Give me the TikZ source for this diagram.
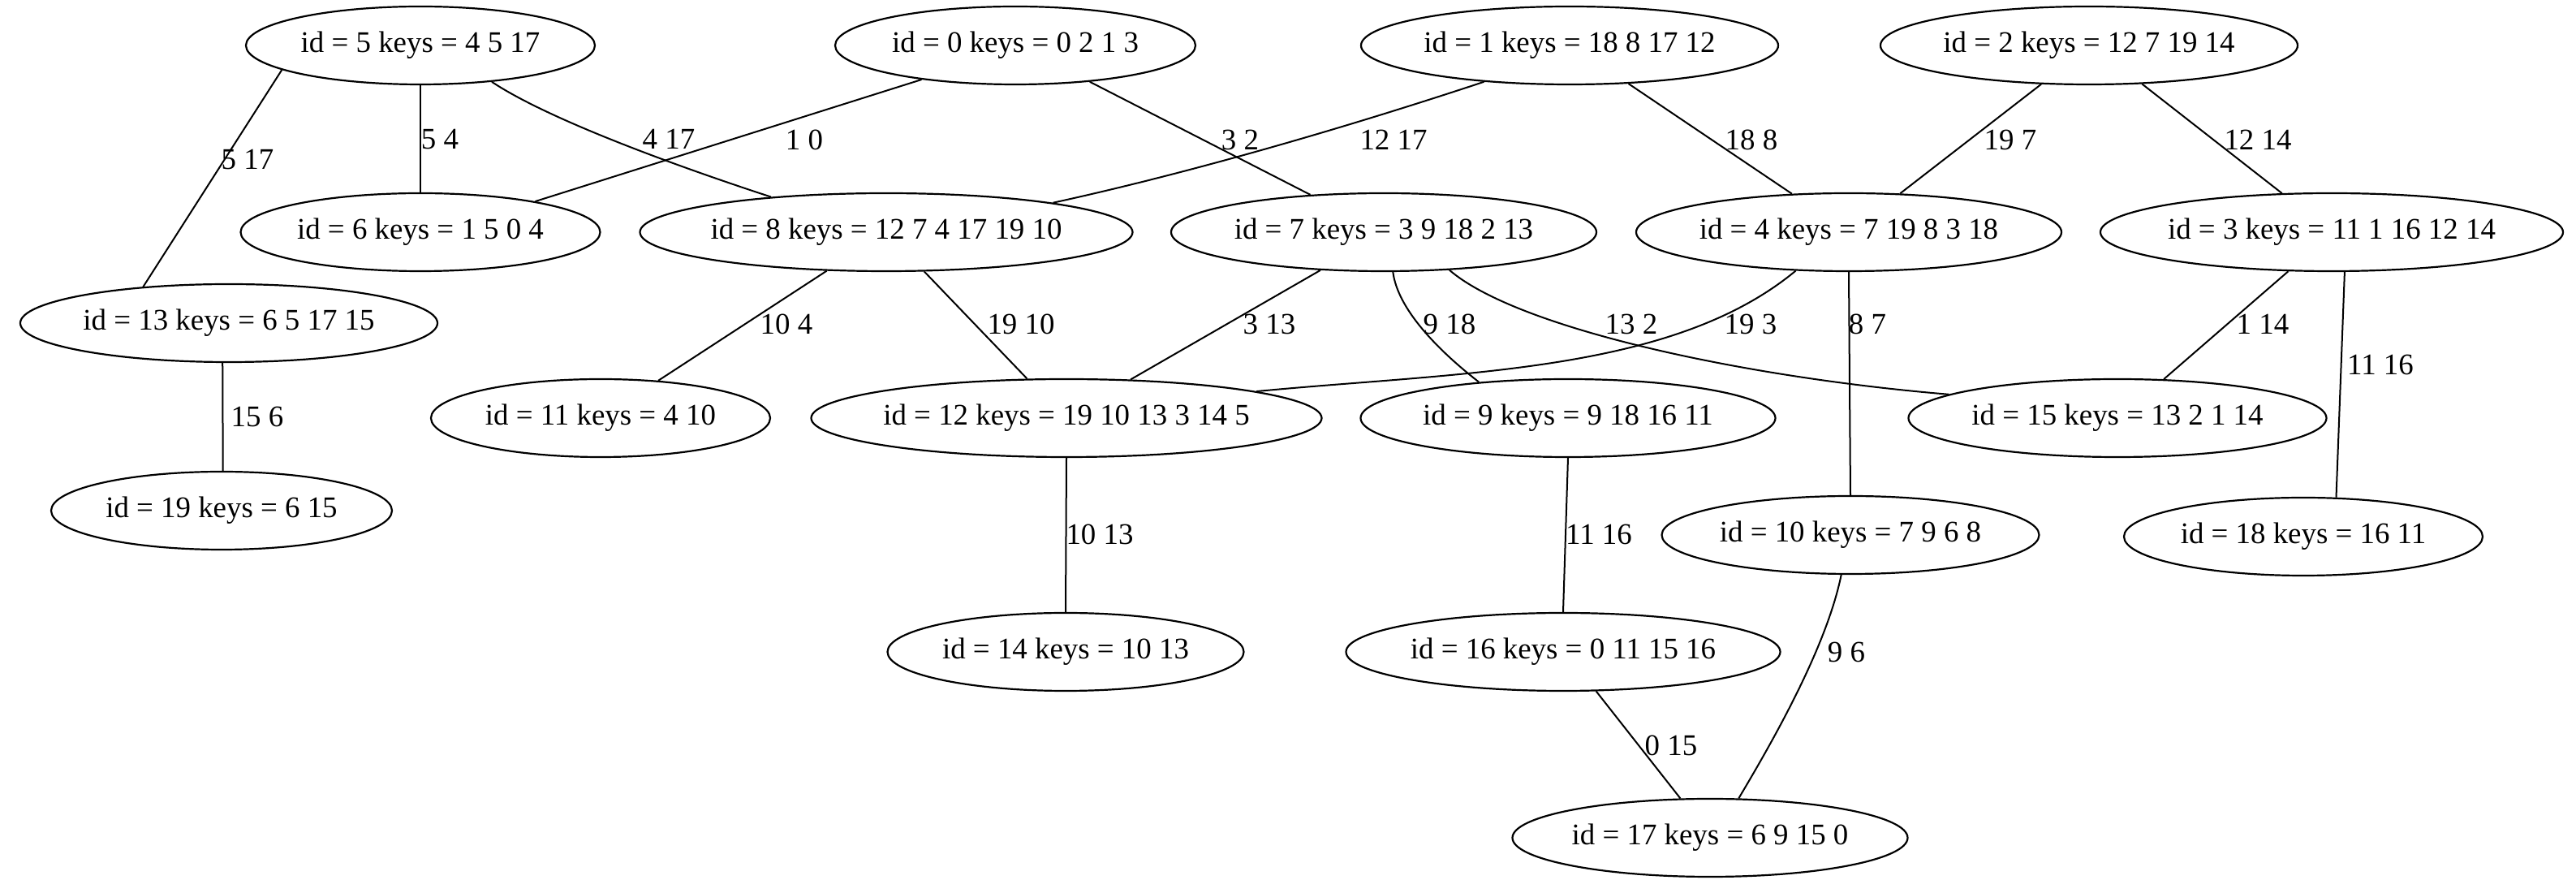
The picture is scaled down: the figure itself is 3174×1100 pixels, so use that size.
\documentclass[tikz,border=0pt]{standalone}
\usepackage{fontspec}
\setmainfont{Liberation Serif}
\usetikzlibrary{shapes.geometric}
\tikzset{
  nd/.style={ellipse, draw, line width=0.55pt, minimum height=24pt, inner sep=0pt},
  lbl/.style={inner sep=0pt},
  edg/.style={line width=0.5pt}
}
\newcommand{\tx}[1]{\makebox[0pt]{#1}}
\begin{document}
\begin{tikzpicture}[x=0.25pt, y=-0.25pt, font=\fontsize{9.22}{11}\selectfont]
\useasboundingbox (0,0) rectangle (3174,1100);
% nodes
\node[nd, minimum width=107.5pt] (n5) at (518,56) {\tx{id = 5 keys = 4 5 17}};
\node[nd, minimum width=111pt] (n0) at (1251,56) {\tx{id = 0 keys = 0 2 1 3}};
\node[nd, minimum width=128.5pt] (n1) at (1934,56) {\tx{id = 1 keys = 18 8 17 12}};
\node[nd, minimum width=128.5pt] (n2) at (2574,56) {\tx{id = 2 keys = 12 7 19 14}};
\node[nd, minimum width=110.75pt] (n6) at (518,286) {\tx{id = 6 keys = 1 5 0 4}};
\node[nd, minimum width=151.75pt] (n8) at (1092,286) {\tx{id = 8 keys = 12 7 4 17 19 10}};
\node[nd, minimum width=131pt] (n7) at (1705,286) {\tx{id = 7 keys = 3 9 18 2 13}};
\node[nd, minimum width=131pt] (n4) at (2278,286) {\tx{id = 4 keys = 7 19 8 3 18}};
\node[nd, minimum width=142.5pt] (n3) at (2873,286) {\tx{id = 3 keys = 11 1 16 12 14}};
\node[nd, minimum width=128.5pt] (n13) at (282,398) {\tx{id = 13 keys = 6 5 17 15}};
\node[nd, minimum width=104.5pt] (n11) at (740,515) {\tx{id = 11 keys = 4 10}};
\node[nd, minimum width=157.25pt] (n12) at (1314,515) {\tx{id = 12 keys = 19 10 13 3 14 5}};
\node[nd, minimum width=127.75pt] (n9) at (1932,515) {\tx{id = 9 keys = 9 18 16 11}};
\node[nd, minimum width=128.75pt] (n15) at (2609,515) {\tx{id = 15 keys = 13 2 1 14}};
\node[nd, minimum width=105pt] (n19) at (273,629) {\tx{id = 19 keys = 6 15}};
\node[nd, minimum width=116.25pt] (n10) at (2280,659) {\tx{id = 10 keys = 7 9 6 8}};
\node[nd, minimum width=110.5pt] (n18) at (2838,661) {\tx{id = 18 keys = 16 11}};
\node[nd, minimum width=109.75pt] (n14) at (1313,803) {\tx{id = 14 keys = 10 13}};
\node[nd, minimum width=133.75pt] (n16) at (1926,803) {\tx{id = 16 keys = 0 11 15 16}};
\node[nd, minimum width=121.75pt] (n17) at (2107,1032) {\tx{id = 17 keys = 6 9 15 0}};
% edges
\draw[edg] (n5.-170.8) -- (n13.157.1);
\draw[edg] (n5.south) -- (n6.north);
\draw[edg] (n5.-27.9) .. controls (680,150) and (850,210) .. (n8.163.5);
\draw[edg] (n0.-160.1) -- (n6.15.1);
\draw[edg] (n0.-26.8) -- (n7.153.1);
\draw[edg] (n1.-157.7) .. controls (1680,150) and (1480,210) .. (n8.10);
\draw[edg] (n1.-33.3) -- (n4.146.1);
\draw[edg] (n2.-141.8) -- (n4.37.3);
\draw[edg] (n2.-36.9) -- (n3.142.7);
\draw[edg] (n8.-147.4) -- (n11.33.1);
\draw[edg] (n8.-46.2) -- (n12.135);
\draw[edg] (n7.-149.9) -- (n12.31);
\draw[edg] (n7.-77.1) .. controls (1722,380) and (1770,430) .. (n9.158);
\draw[edg] (n7.-30.7) .. controls (1870,405) and (2150,465) .. (n15.172.8);
\draw[edg] (n4.-144.4) .. controls (2060,460) and (1800,458) .. (n12.8.2);
\draw[edg] (n4.south) -- (n10.north);
\draw[edg] (n3.-138.9) -- (n15.40.6);
\draw[edg] (n3.-72.6) -- (n18.50.9);
\draw[edg] (n13.-99.3) -- (n19.88.8);
\draw[edg] (n12.south) -- (n14.north);
\draw[edg] (n9.south) -- (n16.north);
\draw[edg] (n16.-50.8) -- (n17.127.6);
\draw[edg] (n10.-103.8) .. controls (2250,800) and (2180,920) .. (n17.54.7);
% labels
\node[lbl] (l1) at (305,197) {5 17};
\node[lbl] (l2) at (542,172) {5 4};
\node[lbl] (l3) at (824,171) {4 17};
\node[lbl] (l4) at (991,172) {1 0};
\node[lbl] (l5) at (1528,172) {3 2};
\node[lbl] (l6) at (1717,172) {12 17};
\node[lbl] (l7) at (2158,172) {18 8};
\node[lbl] (l8) at (2477,172) {19 7};
\node[lbl] (l9) at (2782,172) {12 14};
\node[lbl] (l10) at (317,513) {15 6};
\node[lbl] (l11) at (969,399) {10 4};
\node[lbl] (l12) at (1258,399) {19 10};
\node[lbl] (l13) at (1564,399) {3 13};
\node[lbl] (l14) at (1786,399) {9 18};
\node[lbl] (l15) at (2010,399) {13 2};
\node[lbl] (l16) at (2157,399) {19 3};
\node[lbl] (l17) at (2301,399) {8 7};
\node[lbl] (l18) at (2788,399) {1 14};
\node[lbl] (l19) at (2933,449) {11 16};
\node[lbl] (l20) at (1355,658) {10 13};
\node[lbl] (l21) at (1970,658) {11 16};
\node[lbl] (l22) at (2275,803) {9 6};
\node[lbl] (l23) at (2059,918) {0 15};
\end{tikzpicture}
\end{document}
